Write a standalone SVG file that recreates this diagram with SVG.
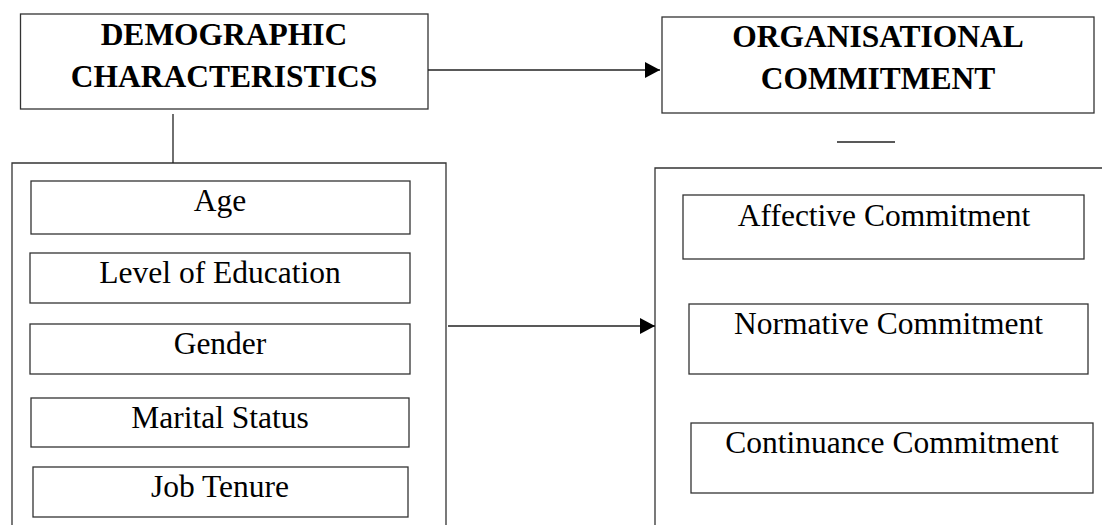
<svg xmlns="http://www.w3.org/2000/svg" width="1102" height="525" viewBox="0 0 1102 525">
<defs>
<style>
.b{fill:#fff;stroke:#333;stroke-width:1.3}
.o{fill:none;stroke:#333;stroke-width:1.3}
.c{fill:none;stroke:#222;stroke-width:1.3}
.h{font-family:"Liberation Serif","Times New Roman",serif;font-weight:bold;font-size:31.5px;fill:#000;text-anchor:middle}
.t{font-family:"Liberation Serif","Times New Roman",serif;font-size:31.5px;fill:#000;text-anchor:middle}
</style>
<marker id="ah" markerWidth="15" markerHeight="16" refX="15" refY="8" orient="auto" markerUnits="userSpaceOnUse">
<path d="M0,0 L15,8 L0,16 Z" fill="#000"/>
</marker>
</defs>
<rect width="1102" height="525" fill="#fff"/>
<g id="demographic">
<rect class="b" x="20.5" y="14" width="407.5" height="95"/>
<text class="h" x="224" y="45">DEMOGRAPHIC</text>
<text class="h" x="224" y="87">CHARACTERISTICS</text>
</g>
<g id="organisational">
<rect class="b" x="662" y="17" width="432" height="96"/>
<text class="h" x="878" y="47">ORGANISATIONAL</text>
<text class="h" x="878" y="89">COMMITMENT</text>
</g>
<g id="demo-list">
<path class="o" d="M12,525 V163 H446 V525"/>
</g>
<g id="age"><rect class="b" x="31" y="181" width="379" height="53"/><text class="t" x="220" y="211">Age</text></g>
<g id="education"><rect class="b" x="30" y="253" width="380" height="50"/><text class="t" x="220" y="283">Level of Education</text></g>
<g id="gender"><rect class="b" x="30" y="324" width="380" height="50"/><text class="t" x="220" y="354">Gender</text></g>
<g id="marital"><rect class="b" x="31" y="398" width="378" height="49"/><text class="t" x="220" y="428">Marital Status</text></g>
<g id="tenure"><rect class="b" x="33" y="467" width="375" height="50"/><text class="t" x="220" y="497">Job Tenure</text></g>
<g id="commit-list">
<path class="o" d="M655,525 V168 H1102"/>
</g>
<g id="affective"><rect class="b" x="683" y="195" width="401" height="64"/><text class="t" x="884" y="226">Affective Commitment</text></g>
<g id="normative"><rect class="b" x="689" y="304" width="399" height="70"/><text class="t" x="888.5" y="334">Normative Commitment</text></g>
<g id="continuance"><rect class="b" x="691" y="423" width="402" height="70"/><text class="t" x="892" y="453">Continuance Commitment</text></g>
<g id="connectors">
<line class="c" x1="428" y1="70" x2="660" y2="70" marker-end="url(#ah)"/>
<line class="c" x1="173" y1="114" x2="173" y2="163"/>
<line class="c" x1="448" y1="326" x2="655" y2="326" marker-end="url(#ah)"/>
<line class="c" x1="837" y1="142" x2="895" y2="142"/>
</g>
</svg>
